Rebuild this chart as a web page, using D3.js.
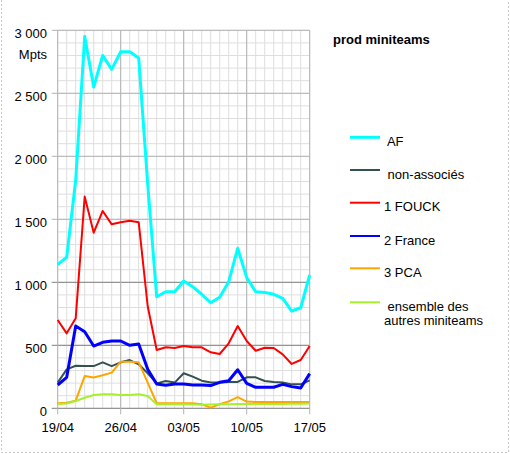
<!DOCTYPE html>
<html>
<head>
<meta charset="utf-8">
<script src="https://cdn.jsdelivr.net/npm/d3@7"></script>
<style>
  body { margin: 0; background: #fff; }
  svg { font-family: "Liberation Sans", Arial, sans-serif; display: block; }
</style>
</head>
<body>
<div id="chart-area"></div>
<script>

let width = 510,
    height = 454;

// data
let days = ["19/04","20/04","21/04","22/04","23/04","24/04","25/04","26/04","27/04","28/04",
            "29/04","30/04","01/05","02/05","03/05","04/05","05/05","06/05","07/05","08/05",
            "09/05","10/05","11/05","12/05","13/05","14/05","15/05","16/05","17/05"];
let dayTicks = ["19/04","26/04","03/05","10/05","17/05"];
let yTicks = [0, 500, 1000, 1500, 2000, 2500, 3000];

let af = [1140,1200,1810,2950,2550,2800,2690,2830,2830,2780,1780,885,925,925,1010,965,905,838,881,1005,1270,1037,925,920,905,873,772,798,1058];
let nonAssocies = [204,309,338,335,335,365,335,365,383,349,278,198,217,204,278,251,219,204,204,209,209,246,246,217,209,204,190,190,222];
let fouck = [701,595,714,1680,1394,1566,1460,1476,1489,1476,810,463,484,479,494,484,484,444,431,516,653,534,457,481,479,428,352,383,494];
let france = [185,246,653,608,494,524,534,534,500,510,309,193,183,193,193,185,185,180,206,219,306,198,167,167,167,190,172,161,275];
let pca = [40,45,61,256,245,262,283,370,370,365,204,40,40,40,40,40,32,5,32,55,88,53,50,50,50,50,50,50,50];
let autres = [34,38,58,84,106,111,111,106,106,111,98,32,32,32,32,30,28,30,32,32,34,35,35,35,35,35,36,37,38];

let seriesNames = [" AF", " non-associés", "1 FOUCK", "2 France", "3 PCA", " ensemble des"];
let seriesColors = ["#00ffff", "#355050", "#ff0000", "#0000ff", "#ffa500", "#a6f02e"];
let seriesWidths = [3, 2, 2, 3, 2, 2];
let legendWidths = [3, 2, 2, 2, 2, 2];
let seriesValues = [af, nonAssocies, fouck, france, pca, autres];

let svg = d3.select("#chart-area").append("svg")
    .attr("width", width)
    .attr("height", height);

// outer dotted frame
svg.append("path")
    .attr("d", "M1.5,0 V452.5 H508.5 V0")
    .attr("fill", "none")
    .attr("stroke", "#c8c8c8")
    .attr("stroke-dasharray", "2,2");

let x = d3.scalePoint().domain(days).range([57.7, 309.7]);
let y = d3.scaleLinear().domain([0, 3000]).range([408.3, 30.3]);

let grid = svg.append("g");

// minor grid
grid.selectAll(".hminor")
    .data(d3.range(0, 3001, 100))
    .enter().append("line")
    .attr("x1", x.range()[0]).attr("x2", x.range()[1])
    .attr("y1", d => y(d)).attr("y2", d => y(d))
    .style("stroke", "#dedede").style("stroke-width", 1);

grid.selectAll(".vminor")
    .data(days)
    .enter().append("line")
    .attr("x1", d => x(d)).attr("x2", d => x(d))
    .attr("y1", y(0)).attr("y2", y(3000))
    .style("stroke", "#dedede").style("stroke-width", 1);

// major grid
grid.selectAll(".hmajor")
    .data(yTicks)
    .enter().append("line")
    .attr("x1", x.range()[0] - 6).attr("x2", x.range()[1])
    .attr("y1", d => y(d)).attr("y2", d => y(d))
    .style("stroke", d => (d == 500 || d == 1000 || d == 0) ? "#808080" : "#b3b3b3")
    .style("stroke-width", 1);

grid.selectAll(".vmajor")
    .data(dayTicks)
    .enter().append("line")
    .attr("x1", d => x(d)).attr("x2", d => x(d))
    .attr("y1", y(0) + 6).attr("y2", y(3000))
    .style("stroke", "#b3b3b3").style("stroke-width", 1);

// axis labels
svg.selectAll(".ylab")
    .data(yTicks)
    .enter().append("text")
    .attr("x", 47)
    .attr("y", d => y(d) + 7.2)
    .attr("text-anchor", "end")
    .style("font-size", "13px")
    .style("white-space", "pre")
    .text(d => d3.format(",")(d).replace(",", " "));

svg.append("text")
    .attr("x", 47).attr("y", 58.5)
    .attr("text-anchor", "end")
    .style("font-size", "13px")
    .text("Mpts");

svg.selectAll(".xlab")
    .data(dayTicks)
    .enter().append("text")
    .attr("x", d => x(d))
    .attr("y", 431.7)
    .attr("text-anchor", "middle")
    .style("font-size", "13px")
    .text(d => d);

// lines
let line = d3.line()
    .x((d, i) => x(days[i]))
    .y(d => y(d));

svg.selectAll(".series")
    .data(seriesValues)
    .enter().append("path")
    .attr("class", "series")
    .attr("d", d => line(d))
    .attr("fill", "none")
    .attr("stroke", (d, i) => seriesColors[i])
    .attr("stroke-width", (d, i) => seriesWidths[i])
    .attr("stroke-linejoin", "round");

// legend
svg.append("text")
    .attr("x", 333).attr("y", 44)
    .style("font-size", "13px")
    .style("font-weight", "bold")
    .text("prod miniteams");

let legendY = [137.3, 170, 202.7, 236, 268.3, 302.3];

let legend = svg.selectAll(".legend")
    .data(seriesNames)
    .enter().append("g")
    .attr("transform", (d, i) => "translate(0," + legendY[i] + ")");

legend.append("line")
    .attr("x1", 350).attr("x2", 380)
    .attr("y1", 0).attr("y2", 0)
    .style("stroke", (d, i) => seriesColors[i])
    .style("stroke-width", (d, i) => legendWidths[i]);

legend.append("text")
    .attr("x", 384).attr("y", 8.5)
    .style("font-size", "13px")
    .style("white-space", "pre")
    .text(d => d);

svg.append("text")
    .attr("x", 384).attr("y", 325)
    .style("font-size", "13px")
    .text("autres miniteams");

</script>
</body>
</html>
